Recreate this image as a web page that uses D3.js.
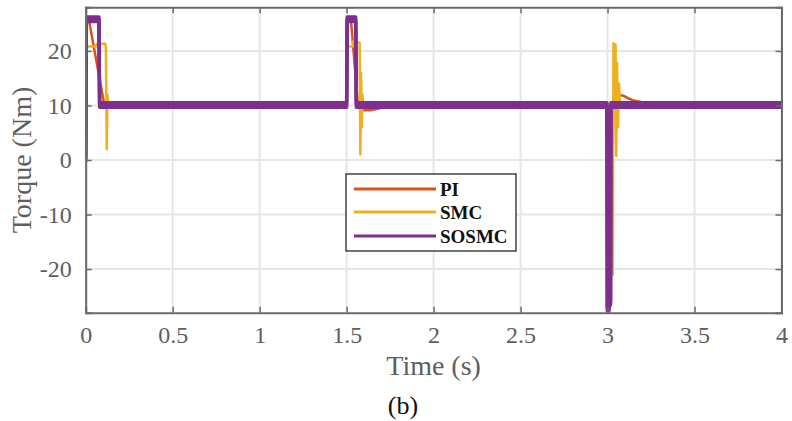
<!DOCTYPE html>
<html>
<head>
<meta charset="utf-8">
<script src="https://cdn.jsdelivr.net/npm/d3@7"></script>
<style>
  html, body { margin: 0; padding: 0; background: #fff; }
  svg { display: block; }
</style>
</head>
<body>
<svg id="chart" width="792" height="421"></svg>
<script>
// ---- data ----
const xTicks = [0, 0.5, 1, 1.5, 2, 2.5, 3, 3.5, 4];
const xTickLabels = ["0", "0.5", "1", "1.5", "2", "2.5", "3", "3.5", "4"];
const yTicks = [-20, -10, 0, 10, 20];
const yTickLabels = ["-20", "-10", "0", "10", "20"];

const seriesNames = ["PI", "SMC", "SOSMC"];

const piTime   = [0, 0.003, 0.019, 0.105, 0.115, 0.13, 0.15,
                  1.5, 1.503, 1.525, 1.565, 1.575, 1.6, 1.635, 1.68, 1.72, 1.76,
                  2.998, 3.004, 3.014, 3.034, 3.05, 3.07, 3.09, 3.12, 3.15, 3.2, 3.25, 3.32, 4];
const piTorque = [0, 25.6, 25.6, 10.5, 9.9, 10.0, 10.1,
                  10.1, 25.6, 25.6, 10.2, 9.4, 9.1, 9.1, 9.4, 9.8, 10.1,
                  10.1, -26.5, -26, 10, 11.5, 11.9, 11.8, 11.3, 10.9, 10.6, 10.3, 10.1, 10.1];

const smcTime   = [0, 0.003, 0.06, 0.064, 0.113, 0.116, 0.121, 0.125, 0.13,
                   1.5, 1.504, 1.535, 1.539, 1.575, 1.579, 1.583, 1.587, 1.591, 1.596,
                   2.998, 3.026, 3.03, 3.034, 3.04, 3.046, 3.05, 3.055, 3.06, 3.066, 3.072, 4];
const smcTorque = [0, 20.8, 20.8, 21.3, 21.3, 20.5, 2, 12, 10.1,
                   10.1, 20.8, 20.8, 21.8, 21.5, 1, 16, 6, 12, 10.1,
                   10.1, -21, -21, 21.4, 20.5, 21.2, 0.8, 17.8, 6, 14, 10.1, 10.1];

const sosmcTime   = [0, 0.003, 0.076, 0.08,
                     1.5, 1.503, 1.552, 1.556,
                     2.997, 2.999, 3.008, 3.01, 3.017, 3.019, 4];
const sosmcTorque = [0, 25.8, 25.8, 10.1,
                     10.1, 25.8, 25.8, 10.1,
                     10.1, -27.3, -27.3, -26.2, -26.2, 10.1, 10.1];

const colors = { PI: "#D95319", SMC: "#EDB120", SOSMC: "#7E2F8E" };

// ---- layout ----
const svg = d3.select("#chart");
const L = 85.7, R = 781.5, T = 7.3, B = 312.7;
const x = d3.scaleLinear().domain([0, 4]).range([L, R]);
const y = d3.scaleLinear().domain([-28, 28]).range([B, T]);

const axisColor = "#6b6b6b";
const textColor = "#5e5e5e";
const fontFam = "'Liberation Serif', 'Times New Roman', serif";

// grid
const grid = svg.append("g");
grid.selectAll("line.gx").data(xTicks).enter().append("line")
  .attr("x1", d => x(d)).attr("x2", d => x(d))
  .attr("y1", T).attr("y2", B)
  .attr("stroke", "#e6e6e6").attr("stroke-width", 2);
grid.selectAll("line.gy").data(yTicks).enter().append("line")
  .attr("x1", L).attr("x2", R)
  .attr("y1", d => y(d)).attr("y2", d => y(d))
  .attr("stroke", "#e6e6e6").attr("stroke-width", 2);

// clip
svg.append("clipPath").attr("id", "clip").append("rect")
  .attr("x", L).attr("y", T).attr("width", R - L).attr("height", B - T);

const line = d3.line().x(d => x(d[0])).y(d => y(d[1]));
const zip = (a, b) => a.map((t, i) => [t, b[i]]);

const plot = svg.append("g").attr("clip-path", "url(#clip)");
plot.append("path").datum(zip(piTime, piTorque))
  .attr("d", line).attr("fill", "none").attr("stroke", colors.PI)
  .attr("stroke-width", 2.5).attr("stroke-linejoin", "round");
plot.append("path").datum(zip(smcTime, smcTorque))
  .attr("d", line).attr("fill", "none").attr("stroke", colors.SMC)
  .attr("stroke-width", 2.5).attr("stroke-linejoin", "round");
// SOSMC: thick chattering band drawn as a thin line with a vertical envelope
[-2.3, 0, 2.3].forEach(off => {
  plot.append("path").datum(zip(sosmcTime, sosmcTorque))
    .attr("d", line).attr("fill", "none").attr("stroke", colors.SOSMC)
    .attr("transform", `translate(0,${off})`)
    .attr("stroke-width", 3.4).attr("stroke-linejoin", "round");
});

// axes (ticks inside, box on)
const tickLen = 6;
const gx = svg.append("g").attr("transform", `translate(0,${B})`)
  .call(d3.axisBottom(x).tickValues(xTicks).tickFormat((d, i) => xTickLabels[i]).tickSize(-tickLen).tickPadding(13));
const gxTop = svg.append("g").attr("transform", `translate(0,${T})`)
  .call(d3.axisTop(x).tickValues(xTicks).tickFormat("").tickSize(-tickLen));
const gy = svg.append("g").attr("transform", `translate(${L},0)`)
  .call(d3.axisLeft(y).tickValues(yTicks).tickFormat((d, i) => yTickLabels[i]).tickSize(-tickLen).tickPadding(14));
const gyR = svg.append("g").attr("transform", `translate(${R},0)`)
  .call(d3.axisRight(y).tickValues(yTicks).tickFormat("").tickSize(-tickLen));
[gx, gxTop, gy, gyR].forEach(g => {
  g.select(".domain").attr("stroke", axisColor).attr("stroke-width", 2);
  g.selectAll(".tick line").attr("stroke", axisColor).attr("stroke-width", 1.5);
  g.selectAll("text").attr("fill", textColor).attr("font-family", fontFam).attr("font-size", 24);
});

// axis labels
svg.append("text").attr("x", (L + R) / 2).attr("y", 375)
  .attr("text-anchor", "middle").attr("font-family", fontFam).attr("font-size", 28)
  .attr("fill", textColor).text("Time (s)");
svg.append("text").attr("transform", `translate(31,${(T + B) / 2}) rotate(-90)`)
  .attr("text-anchor", "middle").attr("font-family", fontFam).attr("font-size", 28)
  .attr("fill", textColor).text("Torque (Nm)");
svg.append("text").attr("x", 403).attr("y", 414)
  .attr("text-anchor", "middle").attr("font-family", fontFam).attr("font-size", 26)
  .attr("fill", "#111").text("(b)");

// legend
const lg = svg.append("g");
lg.append("rect").attr("x", 346).attr("y", 174).attr("width", 170).attr("height", 77)
  .attr("fill", "#fff").attr("stroke", "#262626").attr("stroke-width", 1.3);
const rowY = [189, 212, 236];
seriesNames.forEach((n, i) => {
  lg.append("line").attr("x1", 354).attr("x2", 436).attr("y1", rowY[i]).attr("y2", rowY[i])
    .attr("stroke", colors[n]).attr("stroke-width", 3);
  lg.append("text").attr("x", 440).attr("y", rowY[i]).attr("dy", "0.35em")
    .attr("font-family", fontFam).attr("font-size", 19).attr("font-weight", "bold")
    .attr("fill", "#111").text(n);
});
</script>
</body>
</html>
